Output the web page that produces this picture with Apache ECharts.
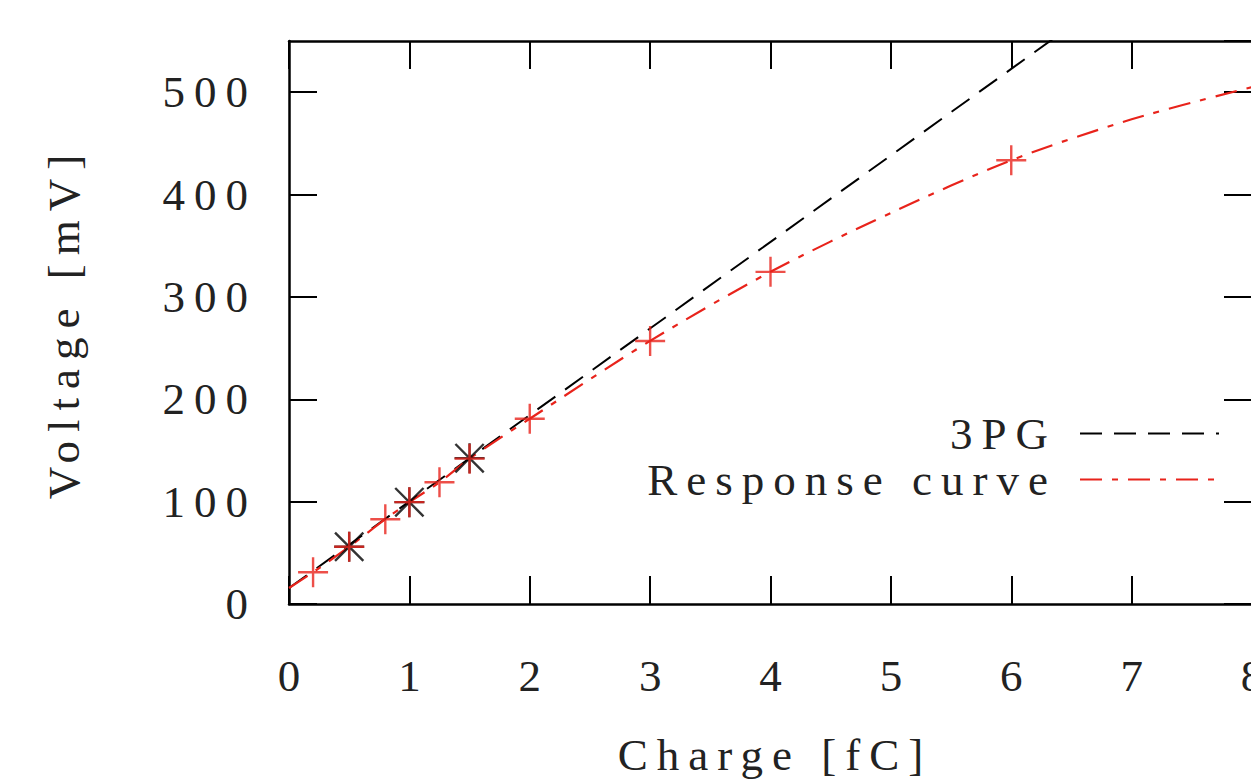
<!DOCTYPE html>
<html>
<head>
<meta charset="utf-8">
<script src="https://cdn.jsdelivr.net/npm/echarts@6/dist/echarts.min.js"></script>
<style>
  html, body { margin: 0; padding: 0; background: #fff; }
  #chart { width: 1251px; height: 782px; letter-spacing: 9px; }
</style>
</head>
<body>
<div id="chart"></div>
<script>
// ---- data ----
const xTicks = [0, 1, 2, 3, 4, 5, 6, 7, 8];
const yTicks = [0, 100, 200, 300, 400, 500];

// 3PG fit line (straight) and its measured points
const line3pg = [[0, 15.6], [6.5, 565]];
const points3pg = [[0.5, 56], [1, 99.5], [1.5, 142.5]];

// Response curve (smooth) and its measured points
const responseCurve = [[0, 15.6], [0.2, 31], [0.5, 56], [0.8, 82.8], [1, 99.5], [1.25, 119], [1.5, 142], [2, 181], [3, 257], [4, 324.5], [5, 382], [6, 433.5], [7, 473.5], [8, 505]];
const responsePoints = [[0.2, 31], [0.5, 56], [0.8, 82.8], [1, 99.5], [1.25, 119], [1.5, 142], [2, 181], [3, 257], [4, 324.5], [6, 433.5]];

const seriesNames = ['3PG', 'Response curve'];
const xName = 'Charge [fC]';
const yName = 'Voltage [mV]';

// ---- styling ----
const RED = '#e8231b';
const TXT = '#222222';
const FONT = 'Liberation Serif';
const FS = 45;

const plusPath = 'path://M0,13.8 L30,13.8 L30,16.2 L0,16.2 Z M13.8,0 L16.2,0 L16.2,30 L13.8,30 Z';
const starPath = 'path://M0,13.8 L30,13.8 L30,16.2 L0,16.2 Z M13.8,0 L16.2,0 L16.2,30 L13.8,30 Z ' +
  'M0,1.7 L1.7,0 L30,28.3 L28.3,30 Z M28.3,0 L30,1.7 L1.7,30 L0,28.3 Z';

const chart = echarts.init(document.getElementById('chart'), null, { renderer: 'svg' });

const axisLineStyle = { color: '#000', width: 2.5 };
const tickStyle = { color: '#000', width: 2 };

chart.setOption({
  animation: false,
  backgroundColor: '#fff',
  textStyle: { fontFamily: FONT },
  grid: { left: 289, top: 41, width: 963, height: 563, containLabel: false, outerBoundsMode: 'none' },
  xAxis: [
    {
      type: 'value', min: xTicks[0], max: xTicks[xTicks.length - 1], interval: 1,
      position: 'bottom',
      name: xName, nameLocation: 'middle', nameGap: 128,
      nameTextStyle: { fontFamily: FONT, fontSize: FS, color: TXT, padding: [0, 0, 0, 9] },
      axisLine: { onZero: false, lineStyle: axisLineStyle },
      axisTick: { inside: true, length: 28, lineStyle: tickStyle },
      axisLabel: { fontFamily: FONT, fontSize: FS, color: TXT, margin: 49, padding: [0, 0, 0, 9] },
      splitLine: { show: false }
    },
    {
      type: 'value', min: xTicks[0], max: xTicks[xTicks.length - 1], interval: 1,
      position: 'top',
      axisLine: { onZero: false, lineStyle: axisLineStyle },
      axisTick: { inside: true, length: 28, lineStyle: tickStyle },
      axisLabel: { show: false },
      splitLine: { show: false }
    }
  ],
  yAxis: [
    {
      type: 'value', min: 0, max: 550, interval: 100,
      position: 'left',
      name: yName, nameLocation: 'middle', nameGap: 203,
      nameTextStyle: { fontFamily: FONT, fontSize: FS, color: TXT },
      axisLine: { onZero: false, lineStyle: axisLineStyle },
      axisTick: { inside: true, length: 28, lineStyle: tickStyle },
      axisLabel: { fontFamily: FONT, fontSize: FS, color: TXT, margin: 32, showMaxLabel: false, padding: [8, 0, 0, 0] },
      splitLine: { show: false }
    },
    {
      type: 'value', min: 0, max: 550, interval: 100,
      position: 'right',
      axisLine: { onZero: false, lineStyle: axisLineStyle },
      axisTick: { inside: true, length: 28, lineStyle: tickStyle },
      axisLabel: { show: false },
      splitLine: { show: false }
    }
  ],
  legend: [
    {
      data: [seriesNames[0]], orient: 'vertical', align: 'right',
      right: 26, top: 406, itemWidth: 139, itemHeight: 12, itemGap: 0,
      itemStyle: { opacity: 0 },
      textStyle: { fontFamily: FONT, fontSize: FS, color: TXT, padding: [0, 18, 0, 0] },
      selectedMode: false
    },
    {
      data: [seriesNames[1]], orient: 'vertical', align: 'right',
      right: 26, top: 452, itemWidth: 139, itemHeight: 12, itemGap: 0,
      itemStyle: { opacity: 0 },
      textStyle: { fontFamily: FONT, fontSize: FS, color: TXT, padding: [0, 18, 0, 0] },
      selectedMode: false
    }
  ],
  series: [
    {
      name: seriesNames[0], type: 'line', data: line3pg, symbol: 'none', clip: true,
      lineStyle: { color: '#000', width: 2, type: [22, 12] }, itemStyle: { color: '#000' },
      z: 3
    },
    {
      name: seriesNames[1], type: 'line', data: responseCurve, symbol: 'none', smooth: 0.3, clip: true,
      lineStyle: { color: RED, width: 2.2, type: [22, 10, 6, 10] }, itemStyle: { color: RED },
      z: 4
    },
    {
      name: '3PG points', type: 'scatter', data: points3pg, symbol: starPath, symbolSize: 30,
      itemStyle: { color: '#000' }, z: 5
    },
    {
      name: 'Response points', type: 'scatter', data: responsePoints, symbol: plusPath, symbolSize: 30,
      itemStyle: { color: RED }, z: 6
    }
  ]
});
</script>
</body>
</html>
